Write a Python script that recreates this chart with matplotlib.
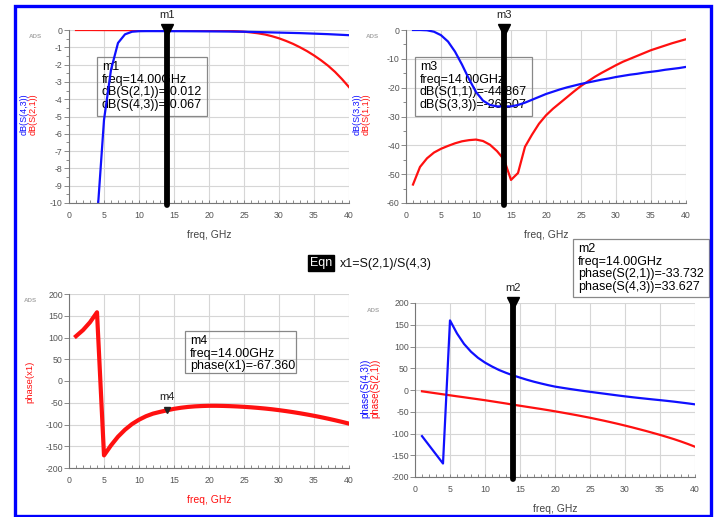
import matplotlib
matplotlib.use('Agg')
import matplotlib.pyplot as plt
from matplotlib.patches import Rectangle
from matplotlib.ticker import MultipleLocator

plt.rcParams['font.family'] = ['Liberation Sans', 'DejaVu Sans']
plt.rcParams['axes.unicode_minus'] = False

W, H = 720, 517

# frequency sweep, GHz
freq = list(range(1, 41))
marker_freq = 14.0

# top left: dB(S(2,1)) red, dB(S(4,3)) blue
db_s21 = [0.0, 0.0, 0.0, -0.002, -0.004, -0.005, -0.006, -0.007, -0.008, -0.009,
          -0.010, -0.011, -0.012, -0.012, -0.013, -0.015, -0.017, -0.019, -0.022, -0.026,
          -0.032, -0.04, -0.055, -0.075, -0.1, -0.14, -0.19, -0.26, -0.36, -0.48,
          -0.63, -0.8, -1.0, -1.22, -1.47, -1.75, -2.06, -2.42, -2.84, -3.3]
db_s43 = [-60.0, -45.0, -28.0, -11.0, -5.2, -2.3, -0.75, -0.25, -0.1, -0.07,
          -0.065, -0.065, -0.066, -0.067, -0.068, -0.07, -0.072, -0.074, -0.077, -0.08,
          -0.083, -0.087, -0.091, -0.095, -0.1, -0.11, -0.12, -0.13, -0.14, -0.15,
          -0.16, -0.17, -0.18, -0.195, -0.21, -0.225, -0.24, -0.26, -0.28, -0.3]

# top right: dB(S(1,1)) red, dB(S(3,3)) blue
db_s11 = [-53.6, -47.5, -44.5, -42.5, -41.2, -40.2, -39.3, -38.6, -38.2, -38.0,
          -38.5, -39.8, -42.0, -44.9, -52.0, -49.6, -40.5, -36.3, -32.5, -29.6,
          -27.3, -25.3, -23.3, -21.3, -19.4, -17.8, -16.2, -14.8, -13.5, -12.2,
          -11.0, -10.0, -9.0, -8.0, -7.0, -6.2, -5.4, -4.6, -3.9, -3.2]
db_s33 = [0.0, 0.0, -0.1, -0.6, -1.8, -4.0, -7.5, -12.0, -17.0, -21.5,
          -24.5, -26.0, -26.5, -26.5, -26.5, -26.0, -25.2, -24.2, -23.2, -22.2,
          -21.4, -20.6, -19.9, -19.3, -18.7, -18.2, -17.7, -17.2, -16.8, -16.3,
          -15.9, -15.5, -15.2, -14.8, -14.5, -14.2, -13.8, -13.5, -13.2, -12.8]

# bottom left: phase(x1), x1 = S(2,1)/S(4,3)
phase_x1 = [103.0, 117.0, 135.0, 158.0, -171.0, -148.0, -128.0, -112.0, -99.0, -89.0,
            -81.0, -75.0, -71.0, -67.4, -64.0, -61.5, -59.6, -58.3, -57.5, -57.0,
            -57.0, -57.3, -57.8, -58.5, -59.4, -60.5, -61.8, -63.3, -65.0, -67.0,
            -69.2, -71.6, -74.2, -77.0, -80.0, -83.2, -86.6, -90.2, -94.0, -98.0]

# bottom right: phase(S(2,1)) red, phase(S(4,3)) blue
ph_s21 = [-3.0, -5.3, -7.6, -9.9, -12.2, -14.5, -16.7, -19.0, -21.2, -23.5,
          -26.0, -28.5, -31.0, -33.7, -36.2, -38.7, -41.2, -43.7, -46.3, -49.0,
          -51.8, -54.7, -57.6, -60.7, -63.8, -67.2, -70.6, -74.2, -77.9, -81.8,
          -85.8, -90.0, -94.2, -98.7, -103.2, -108.0, -113.0, -118.4, -124.2, -130.4]
ph_s43 = [-106.0, -127.0, -148.0, -169.0, 160.0, 130.0, 106.0, 88.0, 74.0, 63.0,
          54.0, 46.0, 39.5, 33.6, 28.5, 23.5, 19.0, 15.0, 11.2, 7.8,
          5.2, 2.7, 0.3, -2.0, -4.2, -6.3, -8.4, -10.5, -12.6, -14.6,
          -16.5, -18.3, -20.0, -21.7, -23.3, -25.0, -26.8, -28.8, -30.8, -33.0]

m1_text = ['m1', 'freq=14.00GHz', 'dB(S(2,1))=-0.012', 'dB(S(4,3))=-0.067']
m3_text = ['m3', 'freq=14.00GHz', 'dB(S(1,1))=-44.867', 'dB(S(3,3))=-26.507']
m4_text = ['m4', 'freq=14.00GHz', 'phase(x1)=-67.360']
m2_text = ['m2', 'freq=14.00GHz', 'phase(S(2,1))=-33.732', 'phase(S(4,3))=33.627']
m4_value = -67.36

RED = '#ff1010'
BLUE = '#1010ff'
TICK = '#555555'


def fx(x):
    return x / W


def fy(y):
    return 1 - y / H


def make_axes(fig, x0, y0, x1, y1, ylim, ystep, yminor=None):
    ax = fig.add_axes([fx(x0), fy(y1), fx(x1) - fx(x0), fy(y0) - fy(y1)])
    ax.set_xlim(0, 40)
    ax.set_ylim(*ylim)
    ax.xaxis.set_major_locator(MultipleLocator(5))
    ax.xaxis.set_minor_locator(MultipleLocator(1))
    ax.yaxis.set_major_locator(MultipleLocator(ystep))
    if yminor:
        ax.yaxis.set_minor_locator(MultipleLocator(yminor))
    ax.grid(True, which='major', color='#d6d6d6', lw=0.8)
    ax.set_axisbelow(True)
    for s in ('top', 'right'):
        ax.spines[s].set_visible(False)
    for s in ('left', 'bottom'):
        ax.spines[s].set_color('#777777')
        ax.spines[s].set_linewidth(0.8)
    ax.tick_params(axis='x', which='both', direction='in', length=2.5, width=0.6,
                   colors='#777777', labelcolor=TICK, labelsize=6.3, pad=6)
    ax.tick_params(axis='y', which='major', direction='out', length=3.5, width=0.6,
                   colors='#777777', labelcolor=TICK, labelsize=6.3, pad=1)
    ax.tick_params(axis='y', which='minor', direction='out', length=2, width=0.6,
                   colors='#777777')
    return ax


def marker_line(ax, name, fsize=8):
    lo, hi = ax.get_ylim()
    ax.axvline(marker_freq, ymin=-0.012, ymax=1, color='black', lw=4.2,
               zorder=5, clip_on=False, solid_capstyle='round')
    ax.plot([marker_freq], [hi], marker='v', ms=8, color='black', zorder=6, clip_on=False)
    ax.annotate(name, (marker_freq, hi), xytext=(0, 7), textcoords='offset points',
                ha='center', va='bottom', fontsize=fsize, color='#222222')


def marker_box(fig, ax, x0, y0, x1, y1, lines):
    ax.add_patch(Rectangle((fx(x0), fy(y1)), fx(x1) - fx(x0), fy(y0) - fy(y1),
                           transform=fig.transFigure, facecolor='none',
                           edgecolor='#888888', lw=0.9, zorder=1.5, clip_on=False))
    ax.text(fx(x0 + 5), fy(y0 + 4), '\n'.join(lines), transform=fig.transFigure,
            ha='left', va='top', fontsize=9, linespacing=1.06, color='black',
            zorder=1.6, clip_on=False)


def ads_tag(fig, x, y):
    fig.text(fx(x), fy(y), 'ADS', fontsize=4.5, color='#aaaaaa', ha='center',
             va='center', fontweight='bold')


fig = plt.figure(figsize=(W / 100, H / 100), dpi=100)

# blue frame
fig.patches.append(Rectangle((fx(15), fy(516)), fx(711) - fx(15), fy(6) - fy(516),
                             transform=fig.transFigure, facecolor='none',
                             edgecolor='#0000ff', lw=2.4, zorder=0))

# top left
ax1 = make_axes(fig, 69, 30, 349, 203, (-10, 0), 1, 0.5)
ax1.plot(freq, db_s21, color=RED, lw=1.6, zorder=2)
ax1.plot(freq, db_s43, color=BLUE, lw=1.6, zorder=2)
ax1.set_xlabel('freq, GHz', fontsize=7.5, color='#444444', labelpad=7)
marker_line(ax1, 'm1')
marker_box(fig, ax1, 97, 57, 207, 116, m1_text)
fig.text(fx(24), fy(114), 'dB(S(4,3))', rotation=90, color=BLUE, fontsize=6.5,
         ha='center', va='center')
fig.text(fx(33), fy(114), 'dB(S(2,1))', rotation=90, color=RED, fontsize=6.5,
         ha='center', va='center')
ads_tag(fig, 35, 36)

# top right
ax2 = make_axes(fig, 406, 30, 686, 203, (-60, 0), 10, 5)
ax2.plot(freq, db_s11, color=RED, lw=1.6, zorder=2)
ax2.plot(freq, db_s33, color=BLUE, lw=1.6, zorder=2)
ax2.set_xlabel('freq, GHz', fontsize=7.5, color='#444444', labelpad=7)
marker_line(ax2, 'm3')
marker_box(fig, ax2, 415, 57, 532, 116, m3_text)
fig.text(fx(357), fy(114), 'dB(S(3,3))', rotation=90, color=BLUE, fontsize=6.5,
         ha='center', va='center')
fig.text(fx(366), fy(114), 'dB(S(1,1))', rotation=90, color=RED, fontsize=6.5,
         ha='center', va='center')
ads_tag(fig, 372, 36)

# bottom left
ax3 = make_axes(fig, 69, 294, 349, 468, (-200, 200), 50)
ax3.plot(freq, phase_x1, color=RED, lw=3.0, zorder=2)
ax3.set_xlabel('freq, GHz', fontsize=7.5, color=RED, labelpad=7)
ax3.plot([marker_freq], [m4_value], marker='v', ms=5, color='#222222', zorder=4)
ax3.annotate('m4', (marker_freq, m4_value), xytext=(0, 6), textcoords='offset points',
             ha='center', va='bottom', fontsize=8, color='#222222')
marker_box(fig, ax3, 185, 331, 296, 373, m4_text)
fig.text(fx(30), fy(382), 'phase(x1)', rotation=90, color=RED, fontsize=6.8,
         ha='center', va='center')
ads_tag(fig, 30, 301)

# bottom right
ax4 = make_axes(fig, 415, 303, 695, 477, (-200, 200), 50)
ax4.plot(freq, ph_s21, color=RED, lw=1.6, zorder=2)
ax4.plot(freq, ph_s43, color=BLUE, lw=1.6, zorder=2)
ax4.set_xlabel('freq, GHz', fontsize=7.5, color='#444444', labelpad=7)
marker_line(ax4, 'm2')
marker_box(fig, ax4, 573, 239, 709, 297, m2_text)
fig.text(fx(365), fy(388), 'phase(S(4,3))', rotation=90, color=BLUE, fontsize=7,
         ha='center', va='center')
fig.text(fx(375), fy(388), 'phase(S(2,1))', rotation=90, color=RED, fontsize=7,
         ha='center', va='center')
ads_tag(fig, 373, 311)

# equation block
fig.text(fx(310), fy(263), 'Eqn', fontsize=9, color='white', ha='left', va='center',
         bbox=dict(boxstyle='square,pad=0.15', facecolor='black', edgecolor='black'))
fig.text(fx(340), fy(264), 'x1=S(2,1)/S(4,3)', fontsize=9, color='#111111',
         ha='left', va='center')

fig.savefig('out.png', dpi=100)
